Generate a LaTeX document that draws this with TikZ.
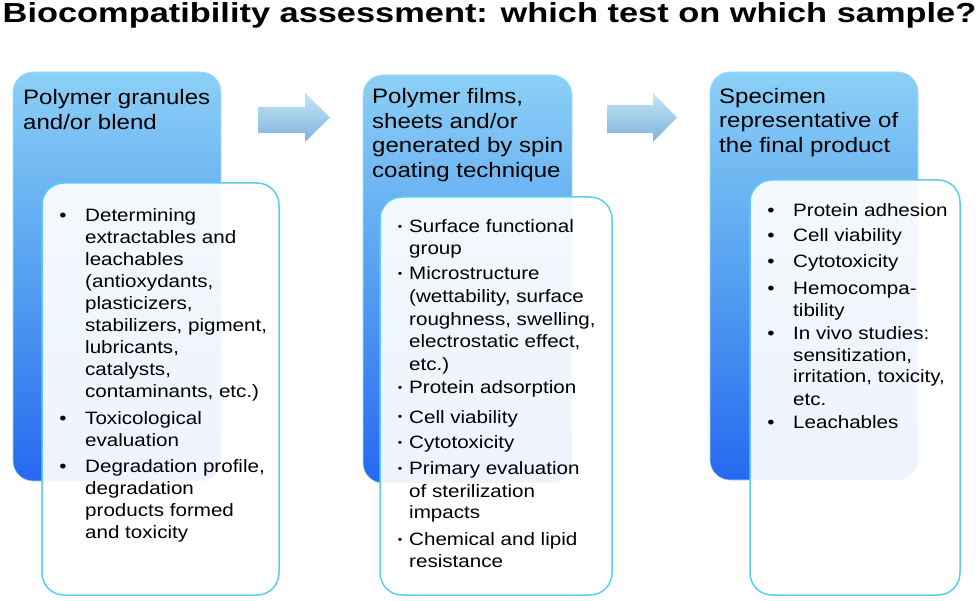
\documentclass[tikz,border=0pt]{standalone}
\usepackage{fontspec}
\setmainfont{Liberation Sans}[FakeStretch=1.15]
\newfontfamily\titlefont{Liberation Sans}
\definecolor{panelTop}{RGB}{140,208,246}
\definecolor{panelMid}{RGB}{85,160,240}
\definecolor{panelBot}{RGB}{38,104,240}
\definecolor{boxEdge}{RGB}{90,205,242}
\definecolor{arrTop}{RGB}{195,230,246}
\definecolor{arrBot}{RGB}{128,178,220}
\tikzset{
  panel/.style={rounded corners=20pt, top color=panelTop, bottom color=panelBot, middle color=panelMid, draw=boxEdge!60, line width=0.6pt},
  whitebox/.style={rounded corners=22pt, fill=white, fill opacity=0.92, draw=boxEdge, line width=1.5pt, draw opacity=1},
  flowarrow/.style={top color=arrTop, bottom color=arrBot, draw=none},
  head/.style={font=\fontsize{20.9}{25}\selectfont, inner sep=0pt, anchor=base west},
  body/.style={font=\fontsize{17.9}{22}\selectfont, inner sep=0pt, anchor=base west},
  bul/.style={font=\fontsize{17.9}{22}\selectfont, inner sep=0pt, anchor=base},
  smallbul/.style={font=\fontsize{11}{11}\selectfont, inner sep=0pt, anchor=base},
  titletext/.style={font=\titlefont\bfseries\fontsize{27.5}{30}\selectfont, inner sep=0pt, anchor=base},
}
\begin{document}
\begin{tikzpicture}[x=1pt,y=1pt]
\useasboundingbox (0,0) rectangle (979,600);
\fill[white] (0,0) rectangle (979,600);

% title
\node[titletext] (title) at (489.5,577) {\scalebox{1.25}[1]{Biocompatibility assessment: which test on which sample?}};

% blue panels
\path[panel] (13,119) rectangle (221,528);
\path[panel] (363,117) rectangle (572,525);
\path[panel] (710,120) rectangle (918,528);

% arrows
\path[flowarrow] (258,493) -- (305,493) -- (305,507) -- (330,482.5) -- (305,458) -- (305,467) -- (258,467) -- cycle;
\path[flowarrow] (607,495) -- (653,495) -- (653,507) -- (677,482.5) -- (653,458) -- (653,467) -- (607,467) -- cycle;

% white boxes
\path[whitebox] (42,5) rectangle (279,417);
\path[whitebox] (380,5) rectangle (612,403);
\path[whitebox] (750,5) rectangle (960,420);

% headings
\node[head] (h1a) at (23,495) {Polymer granules};
\node[head] (h1b) at (23,470) {and/or blend};
\node[head] (h2a) at (372,496) {Polymer films,};
\node[head] (h2b) at (372,471.5) {sheets and/or};
\node[head] (h2c) at (372,447) {generated by spin};
\node[head] (h2d) at (372,422.5) {coating technique};
\node[head] (h3a) at (719,496) {Specimen};
\node[head] (h3b) at (719,472) {representative of};
\node[head] (h3c) at (719,447) {the final product};

% panel 1 body
\foreach \yy/\txt [count=\k] in {378/Determining, 356/{extractables and}, 334/leachables, 312/{(antioxydants,}, 290/{plasticizers,}, 268/{stabilizers, pigment,}, 246/{lubricants,}, 224/{catalysts,}, 202/{contaminants, etc.)}, 176/Toxicological, 154/evaluation, 128/{Degradation profile,}, 106/degradation, 84/{products formed}, 62/{and toxicity}}
  \node[body] (pa\k) at (85,\yy) {\txt};
\foreach \yy [count=\k] in {378,176,128}
  \node[bul] (ba\k) at (63,\yy) {•};

% panel 2 body
\foreach \yy/\txt [count=\k] in {367/{Surface functional}, 345/group, 320/Microstructure, 297/{(wettability, surface}, 274/{roughness, swelling,}, 252/{electrostatic effect,}, 229/{etc.)}, 206/{Protein adsorption}, 177/{Cell viability}, 152/Cytotoxicity, 126/{Primary evaluation}, 103/{of sterilization}, 82/impacts, 55/{Chemical and lipid}, 33/resistance}
  \node[body] (pb\k) at (409,\yy) {\txt};
\foreach \yy [count=\k] in {367,320,206,177,152,126,55}
  \node[smallbul] (bb\k) at (400,\yy+2) {•};

% panel 3 body
\foreach \yy/\txt [count=\k] in {383/{Protein adhesion}, 358/{Cell viability}, 332/Cytotoxicity, 305/Hemocompa-, 283/tibility, 260/{In vivo studies:}, 238/{sensitization,}, 217/{irritation, toxicity,}, 195/{etc.}, 172/Leachables}
  \node[body] (pc\k) at (793,\yy) {\txt};
\foreach \yy [count=\k] in {383,358,332,305,260,172}
  \node[bul] (bc\k) at (771,\yy) {•};
\end{tikzpicture}
\end{document}
